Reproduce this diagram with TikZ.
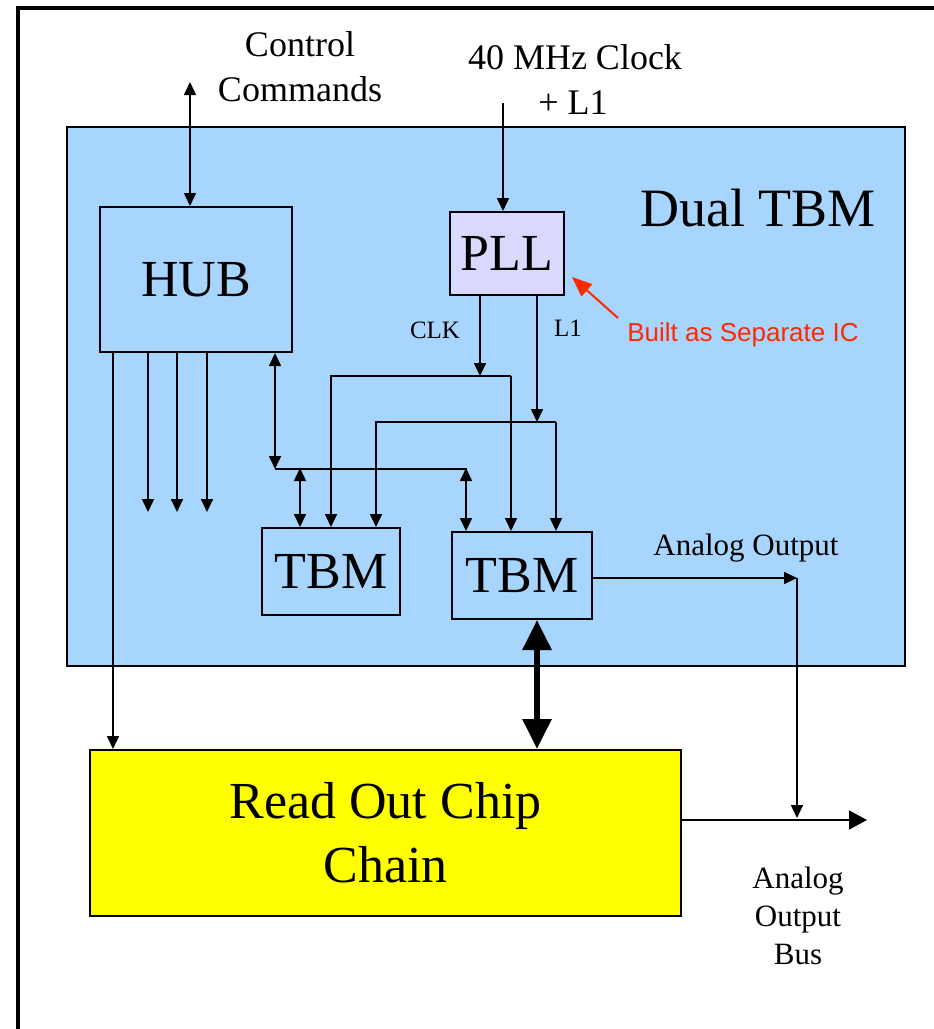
\documentclass[tikz,border=0pt]{standalone}
\usepackage{fontspec}
\setmainfont{Liberation Serif}
\newfontfamily\arialfont{Liberation Sans}
\usetikzlibrary{arrows.meta}
\definecolor{dualblue}{RGB}{168,213,253}
\definecolor{plllav}{RGB}{217,217,255}
\definecolor{rocyellow}{RGB}{255,255,0}
\definecolor{notered}{RGB}{255,40,0}
\begin{document}
\begin{tikzpicture}[x=1pt,y=-1pt,
  blk/.style={draw, line width=2pt, inner sep=0pt, rectangle},
  wire/.style={line width=1.6pt},
  arr/.style={wire, -{Triangle[length=13pt,width=12pt]}},
  biarr/.style={wire, {Triangle[length=13pt,width=12pt]}-{Triangle[length=13pt,width=12pt]}},
  bigtxt/.style={font=\fontsize{52}{60}\selectfont},
  midtxt/.style={font=\fontsize{36}{45}\selectfont, align=center, inner sep=0pt},
  smalltxt/.style={font=\fontsize{31}{38}\selectfont, align=center, inner sep=0pt},
  tinytxt/.style={font=\fontsize{25}{30}\selectfont, inner sep=0pt}]
\useasboundingbox (0,0) rectangle (934,1029);
% outer frame (clipped at right and bottom)
\draw[line width=4pt] (18,1040) -- (18,8) -- (945,8);

% main blocks
\node[blk, fill=dualblue, minimum width=838pt, minimum height=539pt] (dual) at (486,396.5) {};
\node[blk, minimum width=192pt, minimum height=145pt, bigtxt] (hub) at (196,279.5) {\raisebox{-3pt}{HUB}};
\node[blk, fill=plllav, minimum width=114pt, minimum height=83pt, bigtxt] (pll) at (507,253.5) {PLL};
\node[blk, minimum width=138pt, minimum height=87pt, bigtxt] (tbma) at (331,571.5) {TBM};
\node[blk, minimum width=140pt, minimum height=87pt, bigtxt] (tbmb) at (522,575.5) {TBM};
\node[blk, fill=rocyellow, minimum width=591pt, minimum height=166pt, bigtxt, align=center] (roc) at (385.5,833) {Read Out Chip\\[4pt]Chain};

% labels
\node[midtxt] (ctltxt) at (300,67) {Control\\Commands};
\node[midtxt] (clktxt) at (575,80) {40 MHz Clock\\\hspace*{-4pt}+ L1};
\node[font=\fontsize{54}{60}\selectfont, inner sep=0pt] (dualtxt) at (758,208) {Dual TBM};
\node[tinytxt] (clklab) at (435,330) {CLK};
\node[tinytxt] (l1lab) at (568,328) {L1};
\node[inner sep=0pt, font=\arialfont\fontsize{26}{30}\selectfont, text=notered] (note) at (743,335) {Built as Separate IC};
\node[smalltxt] (aotxt) at (746,548) {Analog Output};
\node[smalltxt] (bustxt) at (798,916) {Analog\\Output\\Bus};

% coordinates
\coordinate (ctl) at (190,82);
\coordinate (clkin) at (503,103);
\coordinate (clkj) at (480,376);
\coordinate (clkL) at (331,376);
\coordinate (clkR) at (511,376);
\coordinate (l1j) at (537,422);
\coordinate (l1L) at (376,422);
\coordinate (l1R) at (556,422);
\coordinate (busj) at (275,469);
\coordinate (busR) at (467,469);
\coordinate (busa) at (300,469);
\coordinate (busb) at (466,469);
\coordinate (o1) at (148,512);
\coordinate (o2) at (177,512);
\coordinate (o3) at (207,512);
\coordinate (rocin) at (113,352);
\coordinate (aoj) at (797,578);
\coordinate (bj) at (797,818);
\coordinate (bline) at (797,820);
\coordinate (bend) at (867,820);
\coordinate (redtip) at (572,277);
\coordinate (redtail) at (618,318);

% connectors
\draw[biarr] (ctl) -- (ctl |- hub.north);
\draw[arr] (clkin) -- (clkin |- pll.north);
\draw[arr] (clkj |- pll.south) -- (clkj);
\draw[arr] (clkR) -- (clkL) -- (clkL |- tbma.north);
\draw[arr] (clkR) -- (clkR |- tbmb.north);
\draw[arr] (l1j |- pll.south) -- (l1j);
\draw[arr] (l1R) -- (l1L) -- (l1L |- tbma.north);
\draw[arr] (l1R) -- (l1R |- tbmb.north);
\draw[biarr] (busj |- hub.south) -- (busj);
\draw[wire] (busj) -- (busR);
\draw[biarr] ([yshift=1pt]busa) -- (busa |- tbma.north);
\draw[biarr] ([yshift=1pt]busb) -- (busb |- tbmb.north);
\draw[arr] (o1 |- hub.south) -- (o1);
\draw[arr] (o2 |- hub.south) -- (o2);
\draw[arr] (o3 |- hub.south) -- (o3);
\draw[arr] (rocin) -- (rocin |- roc.north);
\draw[line width=6pt, {Triangle[length=30pt,width=28pt]}-{Triangle[length=30pt,width=28pt]}] ([xshift=15pt]tbmb.south) -- ([xshift=15pt]tbmb.south |- roc.north);
\draw[arr] (tbmb.east |- aoj) -- (aoj);
\draw[arr] (aoj) -- (bj);
\draw[wire, -{Triangle[length=18pt,width=19pt]}] (roc.east |- bline) -- (bend);
\draw[notered, line width=2pt, -{Triangle[length=20pt,width=16pt]}] (redtail) -- (redtip);
\end{tikzpicture}
\end{document}
